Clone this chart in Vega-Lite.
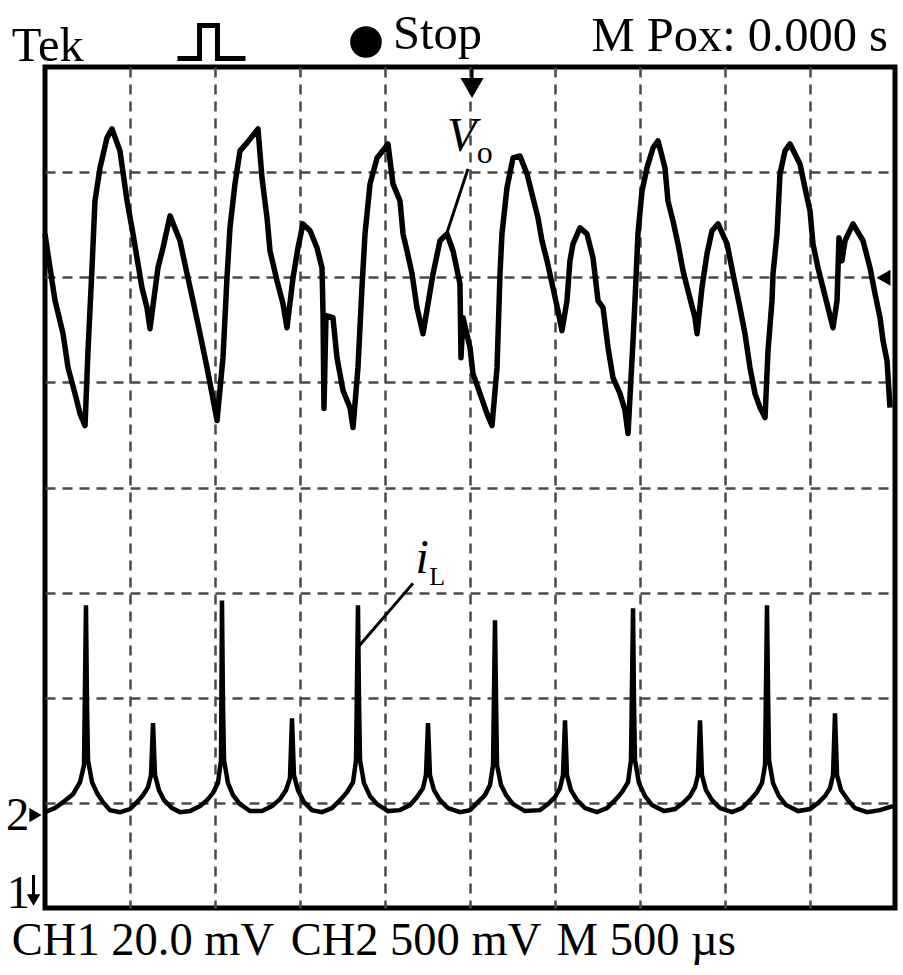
{
  "$schema": "https://vega.github.io/schema/vega-lite/v6.json",
  "autosize": {"type": "none"},
  "padding": {"left": 45, "top": 67, "right": 8, "bottom": 67},
  "width": 850,
  "height": 841,
  "background": "white",
  "config": {
    "view": {"stroke": "black", "strokeWidth": 5},
    "font": "Liberation Serif"
  },
  "datasets": {
    "vo": [
      {"x":0,"y":6.413},{"x":0.059,"y":6.090},{"x":0.118,"y":5.777},{"x":0.212,"y":5.463},{"x":0.271,"y":5.140},{"x":0.353,"y":4.893},{"x":0.412,"y":4.703},{"x":0.471,"y":4.589},{"x":0.506,"y":5.302},{"x":0.553,"y":6.090},{"x":0.588,"y":6.727},{"x":0.647,"y":7.040},{"x":0.729,"y":7.325},{"x":0.788,"y":7.411},{"x":0.882,"y":7.202},{"x":0.965,"y":6.727},{"x":1.035,"y":6.413},{"x":1.082,"y":6.185},{"x":1.141,"y":5.900},{"x":1.2,"y":5.710},{"x":1.235,"y":5.511},{"x":1.329,"y":6.090},{"x":1.388,"y":6.280},{"x":1.471,"y":6.584},{"x":1.588,"y":6.347},{"x":1.671,"y":6.033},{"x":1.741,"y":5.777},{"x":1.824,"y":5.463},{"x":1.906,"y":5.140},{"x":1.965,"y":4.893},{"x":2.024,"y":4.637},{"x":2.094,"y":5.235},{"x":2.141,"y":5.995},{"x":2.176,"y":6.470},{"x":2.235,"y":6.888},{"x":2.294,"y":7.202},{"x":2.376,"y":7.278},{"x":2.506,"y":7.411},{"x":2.553,"y":6.945},{"x":2.612,"y":6.565},{"x":2.647,"y":6.252},{"x":2.729,"y":5.967},{"x":2.8,"y":5.748},{"x":2.847,"y":5.520},{"x":2.918,"y":5.995},{"x":2.976,"y":6.280},{"x":3.035,"y":6.508},{"x":3.118,"y":6.442},{"x":3.2,"y":6.280},{"x":3.259,"y":6.090},{"x":3.271,"y":5.653},{"x":3.282,"y":4.751},{"x":3.306,"y":5.634},{"x":3.388,"y":5.615},{"x":3.435,"y":5.235},{"x":3.506,"y":4.922},{"x":3.588,"y":4.760},{"x":3.624,"y":4.570},{"x":3.682,"y":5.140},{"x":3.729,"y":5.900},{"x":3.765,"y":6.413},{"x":3.824,"y":6.888},{"x":3.906,"y":7.135},{"x":4.0,"y":7.230},{"x":4.035,"y":7.268},{"x":4.094,"y":6.888},{"x":4.176,"y":6.727},{"x":4.212,"y":6.413},{"x":4.259,"y":6.252},{"x":4.318,"y":6.033},{"x":4.376,"y":5.710},{"x":4.447,"y":5.463},{"x":4.565,"y":6.033},{"x":4.647,"y":6.347},{"x":4.729,"y":6.413},{"x":4.8,"y":6.252},{"x":4.882,"y":5.938},{"x":4.894,"y":5.235},{"x":4.918,"y":5.615},{"x":5.0,"y":5.330},{"x":5.035,"y":5.083},{"x":5.118,"y":4.893},{"x":5.2,"y":4.703},{"x":5.259,"y":4.589},{"x":5.318,"y":5.140},{"x":5.353,"y":6.033},{"x":5.376,"y":6.413},{"x":5.435,"y":6.850},{"x":5.506,"y":7.135},{"x":5.588,"y":7.154},{"x":5.671,"y":6.983},{"x":5.741,"y":6.755},{"x":5.8,"y":6.565},{"x":5.847,"y":6.347},{"x":5.906,"y":6.157},{"x":5.976,"y":5.900},{"x":6.035,"y":5.682},{"x":6.082,"y":5.492},{"x":6.141,"y":5.777},{"x":6.176,"y":6.157},{"x":6.212,"y":6.318},{"x":6.294,"y":6.470},{"x":6.376,"y":6.413},{"x":6.447,"y":6.185},{"x":6.506,"y":5.777},{"x":6.565,"y":5.710},{"x":6.624,"y":5.330},{"x":6.682,"y":5.045},{"x":6.765,"y":4.893},{"x":6.824,"y":4.732},{"x":6.859,"y":4.513},{"x":6.918,"y":5.397},{"x":6.941,"y":5.777},{"x":6.976,"y":6.413},{"x":7.024,"y":6.822},{"x":7.082,"y":7.040},{"x":7.153,"y":7.230},{"x":7.212,"y":7.297},{"x":7.294,"y":7.040},{"x":7.329,"y":6.727},{"x":7.388,"y":6.537},{"x":7.447,"y":6.318},{"x":7.506,"y":6.062},{"x":7.565,"y":5.872},{"x":7.647,"y":5.615},{"x":7.671,"y":5.463},{"x":7.729,"y":5.900},{"x":7.788,"y":6.223},{"x":7.847,"y":6.442},{"x":7.918,"y":6.508},{"x":8.024,"y":6.318},{"x":8.094,"y":6.033},{"x":8.176,"y":5.710},{"x":8.235,"y":5.463},{"x":8.294,"y":5.140},{"x":8.353,"y":4.893},{"x":8.412,"y":4.760},{"x":8.471,"y":4.665},{"x":8.506,"y":5.302},{"x":8.553,"y":5.777},{"x":8.565,"y":6.033},{"x":8.612,"y":6.413},{"x":8.647,"y":6.983},{"x":8.706,"y":7.202},{"x":8.765,"y":7.268},{"x":8.882,"y":7.078},{"x":8.941,"y":6.850},{"x":9.0,"y":6.632},{"x":9.035,"y":6.318},{"x":9.094,"y":6.090},{"x":9.153,"y":5.900},{"x":9.212,"y":5.710},{"x":9.271,"y":5.520},{"x":9.318,"y":5.777},{"x":9.341,"y":6.375},{"x":9.376,"y":6.157},{"x":9.412,"y":6.347},{"x":9.506,"y":6.508},{"x":9.624,"y":6.347},{"x":9.706,"y":6.090},{"x":9.765,"y":5.843},{"x":9.824,"y":5.615},{"x":9.859,"y":5.397},{"x":9.906,"y":5.207},{"x":9.941,"y":4.760}
    ],
    "il": [
      {"x":0,"y":0.912},{"x":0.118,"y":0.950},{"x":0.212,"y":1.007},{"x":0.329,"y":1.083},{"x":0.412,"y":1.197},{"x":0.459,"y":1.359},{"x":0.482,"y":2.879},{"x":0.494,"y":1.948},{"x":0.506,"y":1.406},{"x":0.553,"y":1.197},{"x":0.612,"y":1.093},{"x":0.682,"y":1.007},{"x":0.765,"y":0.931},{"x":0.882,"y":0.912},{"x":1.0,"y":0.941},{"x":1.082,"y":1.007},{"x":1.153,"y":1.074},{"x":1.212,"y":1.150},{"x":1.247,"y":1.264},{"x":1.271,"y":1.758},{"x":1.294,"y":1.264},{"x":1.341,"y":1.121},{"x":1.4,"y":1.026},{"x":1.494,"y":0.950},{"x":1.588,"y":0.912},{"x":1.706,"y":0.922},{"x":1.824,"y":0.969},{"x":1.906,"y":1.026},{"x":1.976,"y":1.093},{"x":2.035,"y":1.188},{"x":2.071,"y":1.406},{"x":2.082,"y":2.926},{"x":2.094,"y":1.948},{"x":2.106,"y":1.406},{"x":2.153,"y":1.188},{"x":2.212,"y":1.074},{"x":2.294,"y":0.988},{"x":2.412,"y":0.922},{"x":2.553,"y":0.922},{"x":2.671,"y":0.969},{"x":2.765,"y":1.036},{"x":2.835,"y":1.121},{"x":2.882,"y":1.235},{"x":2.906,"y":1.805},{"x":2.929,"y":1.264},{"x":2.976,"y":1.121},{"x":3.047,"y":1.007},{"x":3.141,"y":0.931},{"x":3.259,"y":0.912},{"x":3.376,"y":0.950},{"x":3.471,"y":1.026},{"x":3.553,"y":1.102},{"x":3.624,"y":1.197},{"x":3.659,"y":1.406},{"x":3.682,"y":2.879},{"x":3.694,"y":1.976},{"x":3.706,"y":1.406},{"x":3.753,"y":1.188},{"x":3.824,"y":1.064},{"x":3.906,"y":0.988},{"x":4.035,"y":0.922},{"x":4.176,"y":0.931},{"x":4.294,"y":0.979},{"x":4.376,"y":1.055},{"x":4.447,"y":1.140},{"x":4.482,"y":1.264},{"x":4.506,"y":1.758},{"x":4.529,"y":1.264},{"x":4.576,"y":1.121},{"x":4.647,"y":1.026},{"x":4.741,"y":0.950},{"x":4.882,"y":0.912},{"x":5.0,"y":0.931},{"x":5.094,"y":1.007},{"x":5.176,"y":1.074},{"x":5.235,"y":1.169},{"x":5.271,"y":1.359},{"x":5.294,"y":2.736},{"x":5.306,"y":2.005},{"x":5.318,"y":1.359},{"x":5.365,"y":1.169},{"x":5.424,"y":1.074},{"x":5.506,"y":0.988},{"x":5.647,"y":0.922},{"x":5.824,"y":0.931},{"x":5.918,"y":0.988},{"x":6.0,"y":1.055},{"x":6.059,"y":1.140},{"x":6.094,"y":1.264},{"x":6.118,"y":1.786},{"x":6.141,"y":1.264},{"x":6.188,"y":1.121},{"x":6.259,"y":1.026},{"x":6.353,"y":0.950},{"x":6.494,"y":0.912},{"x":6.612,"y":0.950},{"x":6.706,"y":1.026},{"x":6.788,"y":1.102},{"x":6.859,"y":1.197},{"x":6.894,"y":1.406},{"x":6.918,"y":2.850},{"x":6.929,"y":1.976},{"x":6.941,"y":1.406},{"x":6.988,"y":1.188},{"x":7.059,"y":1.064},{"x":7.141,"y":0.979},{"x":7.282,"y":0.922},{"x":7.412,"y":0.941},{"x":7.506,"y":0.998},{"x":7.588,"y":1.064},{"x":7.647,"y":1.150},{"x":7.682,"y":1.264},{"x":7.706,"y":1.786},{"x":7.729,"y":1.264},{"x":7.776,"y":1.121},{"x":7.847,"y":1.026},{"x":7.941,"y":0.950},{"x":8.082,"y":0.912},{"x":8.2,"y":0.950},{"x":8.294,"y":1.026},{"x":8.376,"y":1.102},{"x":8.435,"y":1.188},{"x":8.471,"y":1.359},{"x":8.494,"y":2.879},{"x":8.506,"y":2.071},{"x":8.518,"y":1.406},{"x":8.565,"y":1.188},{"x":8.635,"y":1.064},{"x":8.718,"y":0.979},{"x":8.859,"y":0.922},{"x":9.0,"y":0.941},{"x":9.094,"y":0.998},{"x":9.176,"y":1.064},{"x":9.235,"y":1.140},{"x":9.271,"y":1.264},{"x":9.294,"y":1.853},{"x":9.318,"y":1.264},{"x":9.365,"y":1.121},{"x":9.447,"y":1.026},{"x":9.529,"y":0.950},{"x":9.671,"y":0.912},{"x":9.824,"y":0.931},{"x":9.976,"y":0.969}
    ],
    "pulse": [
      {"i":0,"x":1.588,"y":8.081},{"i":1,"x":1.818,"y":8.081},{"i":2,"x":1.818,"y":8.394},{"i":3,"x":2.029,"y":8.394},{"i":4,"x":2.029,"y":8.081},{"i":5,"x":2.329,"y":8.081}
    ],
    "leaders": [
      {"g":"Vo","x":4.976,"y":7.031},{"g":"Vo","x":4.729,"y":6.423},
      {"g":"iL","x":4.329,"y":3.088},{"g":"iL","x":3.682,"y":2.480},
      {"g":"trig","x":5.024,"y":7.98},{"g":"trig","x":5.024,"y":7.80},
      {"g":"ch1","x":-0.135,"y":0.314},{"g":"ch1","x":-0.135,"y":0.10}
    ],
    "texts": [
      {"x":-0.39,"y":-0.447,"text":"CH1 20.0 mV"},
      {"x":2.89,"y":-0.447,"text":"CH2 500 mV"},
      {"x":6.02,"y":-0.447,"text":"M 500 µs"},
      {"x":-0.46,"y":0.741,"text":"2"},
      {"x":-0.45,"y":0.0,"text":"1"}
    ],
    "toptexts": [
      {"x":-0.39,"y":8.057,"text":"Tek"},
      {"x":4.094,"y":8.171,"text":"Stop"},
      {"x":6.43,"y":8.152,"text":"M Pox: 0.000 s"}
    ]
  },
  "encoding": {
    "x": {"field": "x", "type": "quantitative", "scale": {"domain": [0, 10], "nice": false, "zero": false},
      "axis": {"values": [1,2,3,4,5,6,7,8,9], "grid": true, "gridColor": "#4a4a4a", "gridDash": [10, 7], "gridWidth": 2.5, "labels": false, "ticks": false, "domain": false, "title": null}},
    "y": {"field": "y", "type": "quantitative", "scale": {"domain": [0, 8], "nice": false, "zero": false},
      "axis": {"values": [1,2,3,4,5,6,7], "grid": true, "gridColor": "#4a4a4a", "gridDash": [10, 7], "gridWidth": 2.5, "labels": false, "ticks": false, "domain": false, "title": null}}
  },
  "layer": [
    {"data": {"name": "vo"}, "mark": {"type": "line", "color": "black", "strokeWidth": 5.5, "strokeJoin": "round"}},
    {"data": {"name": "il"}, "mark": {"type": "line", "color": "black", "strokeWidth": 4.5, "strokeJoin": "miter"}},
    {"data": {"name": "pulse"}, "mark": {"type": "line", "color": "black", "strokeWidth": 5, "strokeJoin": "miter", "strokeCap": "square"}, "encoding": {"order": {"field": "i"}}},
    {"data": {"name": "leaders"}, "mark": {"type": "line", "color": "black", "strokeWidth": 3}, "encoding": {"detail": {"field": "g"}}},
    {"data": {"values": [{"x": 3.776, "y": 8.238}]}, "mark": {"type": "point", "shape": "circle", "filled": true, "color": "black", "size": 1000, "opacity": 1}},
    {"data": {"values": [{"x": 5.024, "y": 7.80}]}, "mark": {"type": "point", "shape": "triangle-down", "filled": true, "color": "black", "size": 529, "opacity": 1}},
    {"data": {"values": [{"x": -0.135, "y": 0.076}]}, "mark": {"type": "point", "shape": "triangle-down", "filled": true, "color": "black", "size": 180, "opacity": 1}},
    {"data": {"values": [{"x": 9.865, "y": 5.995}]}, "mark": {"type": "point", "shape": "triangle-left", "filled": true, "color": "black", "size": 260, "opacity": 1}},
    {"data": {"values": [{"x": -0.112, "y": 0.884}]}, "mark": {"type": "point", "shape": "triangle-right", "filled": true, "color": "black", "size": 200, "opacity": 1}},
    {"data": {"name": "texts"}, "mark": {"type": "text", "align": "left", "baseline": "alphabetic", "font": "Liberation Serif", "fontSize": 46.5, "color": "black"}, "encoding": {"text": {"field": "text"}}},
    {"data": {"name": "toptexts"}, "mark": {"type": "text", "align": "left", "baseline": "alphabetic", "font": "Liberation Serif", "fontSize": 48.5, "color": "black"}, "encoding": {"text": {"field": "text"}}},
    {"data": {"values": [{"x": 4.73, "y": 7.202, "text": "V"}, {"x": 4.36, "y": 3.183, "text": "i"}]}, "mark": {"type": "text", "align": "left", "baseline": "alphabetic", "font": "Liberation Serif", "fontStyle": "italic", "fontSize": 48, "color": "black"}, "encoding": {"text": {"field": "text"}}},
    {"data": {"values": [{"x": 5.08, "y": 7.088, "text": "o"}]}, "mark": {"type": "text", "align": "left", "baseline": "alphabetic", "font": "Liberation Serif", "fontSize": 32, "color": "black"}, "encoding": {"text": {"field": "text"}}},
    {"data": {"values": [{"x": 4.52, "y": 3.069, "text": "L"}]}, "mark": {"type": "text", "align": "left", "baseline": "alphabetic", "font": "Liberation Serif", "fontSize": 26, "color": "black"}, "encoding": {"text": {"field": "text"}}}
  ]
}
